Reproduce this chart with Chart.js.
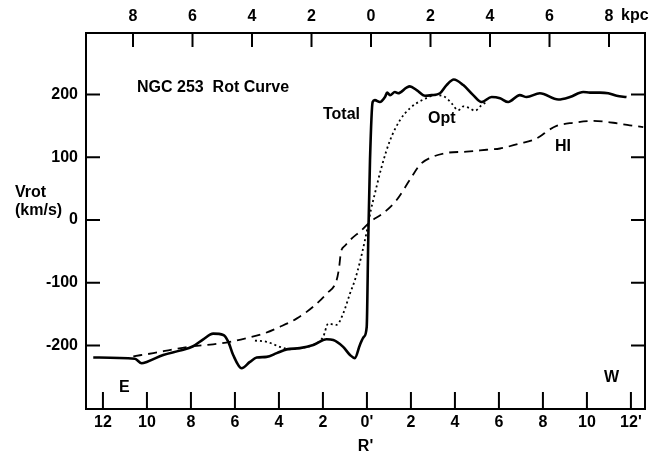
<!DOCTYPE html>
<html>
<head>
<meta charset="utf-8">
<script src="https://cdn.jsdelivr.net/npm/chart.js@4.4.1/dist/chart.umd.min.js"></script>
<style>
html,body{margin:0;padding:0;background:#fff;}
canvas{display:block;}
</style>
</head>
<body>
<canvas id="c" width="650" height="451"></canvas>
<script>
// R' in arcmin (E negative, W positive), Vrot in km/s
const totalR = [-12.44,-10.55,-10.24,-10.01,-9.26,-8.5,-7.9,-7.44,-6.99,-6.53,-6.3,-6.08,-5.7,-5.32,-5.01,-4.56,-4.1,-3.65,-3.05,-2.44,-1.83,-1.53,-1.08,-0.77,-0.55,-0.32,-0.14,-0.01,0.06,0.14,0.26,0.36,0.59,0.82,0.92,1.05,1.27,1.42,1.8,1.95,2.26,2.64,2.94,3.32,3.62,3.95,4.38,4.83,5.21,5.67,6.05,6.42,6.95,7.26,7.86,8.7,9.23,9.83,10.14,10.59,10.97,11.35,11.8];
const totalV = [-219,-221,-228,-226,-215,-208,-201,-190,-181,-183,-194,-215,-236,-226,-219,-218,-212,-206,-204,-199,-190,-191,-202,-215,-220,-199,-186,-170,-32,96,188,191,188,196,203,199,204,202,211,213,207,198,199,202,215,224,215,199,188,196,194,188,199,196,202,192,196,204,203,203,202,198,196];

const optR = [-5.09,-4.56,-3.95,-3.5,-3.05,-2.44,-1.99,-1.76,-1.38,-1.08,-0.77,-0.55,-0.32,-0.09,0.05,0.18,0.36,0.67,1.05,1.5,1.95,2.56,3.17,3.55,3.85,4.15,4.38,4.68,4.91,5.21,5.44];
const optV = [-192,-194,-202,-206,-204,-199,-186,-165,-167,-149,-117,-96,-67,-32,-8,16,42,85,127,159,178,192,199,196,186,175,181,178,174,183,188];

const hiR = [-10.62,-9.71,-8.8,-7.9,-6.99,-6.23,-5.47,-4.71,-3.95,-3.2,-2.44,-1.83,-1.38,-1.27,-1.18,-1.0,-0.77,-0.24,0.14,0.74,1.35,1.95,2.41,3.01,3.62,4.53,5.44,6.05,6.95,7.5,7.86,8.25,8.62,9.38,10.29,11.2,11.95,12.56];
const hiV = [-217,-212,-206,-201,-198,-194,-188,-181,-170,-157,-138,-117,-96,-77,-51,-41,-32,-16,-3,11,32,64,88,101,107,109,112,114,122,127,133,143,150,155,158,155,151,148];

const bottomTicks = [-12,-10,-8,-6,-4,-2,0,2,4,6,8,10,12];
const bottomLabels = ['12','10','8','6','4','2',"0'",'2','4','6','8','10',"12'"];
const topTicks = [-8,-6,-4,-2,0,2,4,6,8];
const topLabels = ['8','6','4','2','0','2','4','6','8'];
const yTicks = [-200,-100,0,100,200];

const FAM = '"Liberation Sans", Arial, Helvetica, sans-serif';
const bold16 = {family: FAM, size: 16, weight: 'bold'};

const toPts = (xs, ys) => xs.map((x, i) => ({x: x, y: ys[i]}));

const framePlugin = {
  id: 'frame',
  afterDraw(chart) {
    const ctx = chart.ctx;
    const a = chart.chartArea;
    const xs = chart.scales.x, xt = chart.scales.x2, ys = chart.scales.y;
    ctx.save();
    ctx.strokeStyle = '#000';
    ctx.lineWidth = 2;
    ctx.strokeRect(a.left, a.top, a.right - a.left, a.bottom - a.top);
    ctx.beginPath();
    bottomTicks.forEach(v => {
      const px = xs.getPixelForValue(v);
      ctx.moveTo(px, a.bottom); ctx.lineTo(px, a.bottom - 17);
    });
    topTicks.forEach(v => {
      const px = xt.getPixelForValue(v);
      ctx.moveTo(px, a.top); ctx.lineTo(px, a.top + 14);
    });
    yTicks.forEach(v => {
      const py = ys.getPixelForValue(v);
      ctx.moveTo(a.left, py); ctx.lineTo(a.left + 14, py);
      ctx.moveTo(a.right, py); ctx.lineTo(a.right - 14, py);
    });
    ctx.stroke();

    ctx.fillStyle = '#000';
    ctx.font = 'bold 16px ' + FAM;
    ctx.textBaseline = 'middle';
    ctx.textAlign = 'left';
    ctx.fillText('NGC 253  Rot Curve', 137, 88);
    ctx.fillText('Total', 323, 115);
    ctx.fillText('Opt', 428, 119);
    ctx.fillText('HI', 555, 147);
    ctx.fillText('E', 119, 388);
    ctx.fillText('W', 604, 378);
    ctx.fillText('Vrot', 15, 193);
    ctx.fillText('(km/s)', 15, 211);
    ctx.fillText('kpc', 621, 16);
    ctx.restore();
  }
};

new Chart(document.getElementById('c'), {
  type: 'line',
  data: {
    datasets: [
      {label: 'Total', data: toPts(totalR, totalV), borderColor: '#000', borderWidth: 2.6, pointRadius: 0, cubicInterpolationMode: 'monotone', fill: false},
      {label: 'Opt', data: toPts(optR, optV), borderColor: '#000', borderWidth: 1.8, borderDash: [2, 3], pointRadius: 0, cubicInterpolationMode: 'monotone', fill: false},
      {label: 'HI', data: toPts(hiR, hiV), borderColor: '#000', borderWidth: 1.8, borderDash: [9, 6], pointRadius: 0, cubicInterpolationMode: 'monotone', fill: false}
    ]
  },
  options: {
    responsive: false,
    animation: false,
    devicePixelRatio: 1,
    layout: {padding: {left: 0, right: 5, top: 0, bottom: 0}},
    plugins: {legend: {display: false}, tooltip: {enabled: false}},
    scales: {
      x: {
        type: 'linear', position: 'bottom', min: -12.77, max: 12.64,
        afterBuildTicks: s => { s.ticks = bottomTicks.map(v => ({value: v})); },
        ticks: {callback: v => bottomLabels[bottomTicks.indexOf(v)], font: bold16, color: '#000', padding: 4, maxRotation: 0, autoSkip: false},
        grid: {display: false, drawTicks: false},
        border: {display: false},
        title: {display: true, text: "R'", font: {family: FAM, size: 16, weight: 'bold', lineHeight: 1}, color: '#000', padding: {top: -4, bottom: -4}},
        afterFit: s => { s.height = 42; }
      },
      x2: {
        type: 'linear', position: 'top', min: -9.58, max: 9.21,
        afterBuildTicks: s => { s.ticks = topTicks.map(v => ({value: v})); },
        ticks: {callback: v => topLabels[topTicks.indexOf(v)], font: bold16, color: '#000', padding: 7, maxRotation: 0, autoSkip: false},
        grid: {display: false, drawTicks: false},
        border: {display: false},
        afterFit: s => { s.height = 33; }
      },
      y: {
        type: 'linear', position: 'left', min: -301, max: 298,
        afterBuildTicks: s => { s.ticks = yTicks.map(v => ({value: v})); },
        ticks: {callback: v => String(v), font: bold16, color: '#000', padding: 8, autoSkip: false},
        grid: {display: false, drawTicks: false},
        border: {display: false},
        afterFit: s => { s.width = 86; }
      }
    }
  },
  plugins: [framePlugin]
});
</script>
</body>
</html>
